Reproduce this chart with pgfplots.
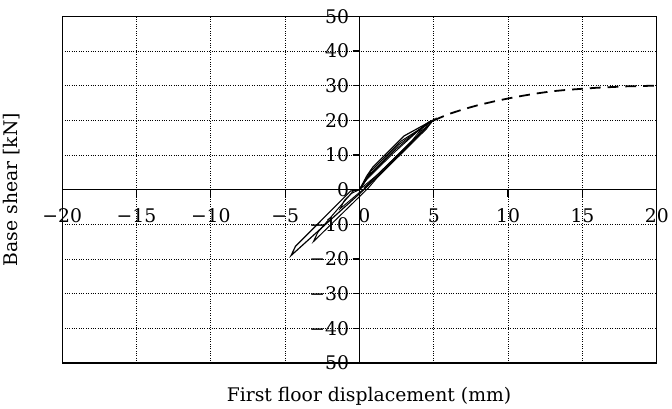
\documentclass[border=0pt]{standalone}
\usepackage{fontspec}
\setmainfont{DejaVu Serif}
\usepackage{pgfplots}
\pgfplotsset{compat=1.18}

\begin{document}
\begin{tikzpicture}
\begin{axis}[
  scale only axis,
  width=602pt, height=351pt,
  xmin=-20, xmax=20, ymin=-50, ymax=50,
  axis lines=middle,
  axis line style={-, line width=1.3pt},
  tick align=outside,
  major tick length=7pt,
  tick style={line width=1.3pt, black},
  xtick={-20,-15,-10,-5,5,10,15,20},
  xticklabels={−20,−15,−10,−5,5,10,15,20},
  ytick={-50,-40,-30,-20,-10,10,20,30,40,50},
  yticklabels={−50,−40,−30,−20,−10,10,20,30,40,50},
  extra x ticks={0}, extra x tick labels={},
  extra y ticks={0}, extra y tick labels={0},
  ticklabel style={font=\fontsize{19}{22}\selectfont},
  xticklabel style={yshift=-9pt},
  grid=major,
  major grid style={dotted, line width=0.9pt, black},
  xlabel={First floor displacement (mm)},
  ylabel={Base shear [kN]},
  every axis x label/.style={at={(axis description cs:0.516,-0.06)}, anchor=north, font=\fontsize{19}{22}\selectfont},
  every axis y label/.style={at={(axis description cs:-0.065,0.5)}, rotate=90, anchor=south, font=\fontsize{19}{22}\selectfont},
]
\draw[line width=1.3pt] (rel axis cs:0,0) rectangle (rel axis cs:1,1);
\node[anchor=north, font=\fontsize{19}{22}\selectfont, xshift=5pt, yshift=-16pt] at (axis cs:0,0) {0};

% hysteresis loops
\addplot[black, line width=1.2pt] coordinates {
  (0,0) (0.5,4) (0.9,6.5) (3,15.5) (5,20.2) (4.7,18.8)
  (0.3,0) (-4.6,-19) (-4.3,-16.3) (-0.6,-0.4) (0,0)};
\addplot[black, line width=1pt] coordinates {
  (0,0) (0.8,5.5) (2.8,14) (4.9,19.8) (4.5,17.5) (1.2,3.5)
  (0.6,0.5) (-3.1,-15) (-2.8,-12.3) (-0.4,-0.3) (0,0)};
\addplot[black, line width=0.9pt] coordinates {
  (0,0) (0.7,4.5) (2.6,12.8) (4.7,19.5) (4.2,16.6) (1.5,5)
  (0.4,0.5) (0,-0.8) (-1.3,-5.5) (-1,-3) (-0.5,-1) (0,0)};
\addplot[black, line width=0.9pt] coordinates {
  (0,0) (0.6,3.8) (2.4,11.5) (4.5,19) (3.9,15.5) (1.6,6) (0.3,0.5)};
\addplot[black, line width=0.9pt] coordinates {
  (0,0) (0.5,3) (2.2,10.2) (4.4,18.7) (3.5,14) (1.4,5) (0,0)};

% monotonic curve
\addplot[black, line width=1.8pt, dash pattern=on 11pt off 7pt] coordinates {
  (5,20) (6,21.8) (7,23.2) (8,24.4) (9,25.4) (10,26.3) (11,27.1) (12,27.8)
  (13,28.4) (14,28.8) (15,29.1) (16,29.4) (17,29.6) (18,29.8) (19,29.9) (20,30)};
\end{axis}
\path ([yshift=6pt]current bounding box.north);
\end{tikzpicture}
\end{document}
